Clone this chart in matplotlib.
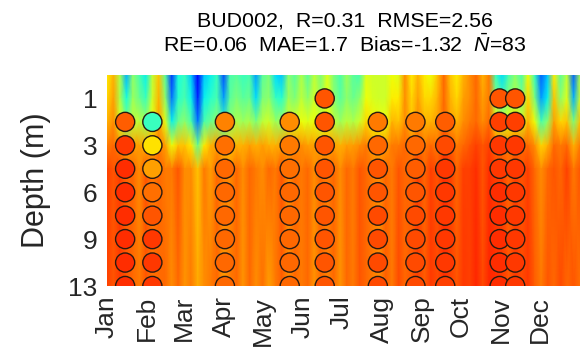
import numpy as np
import matplotlib
matplotlib.use('Agg')
import matplotlib.pyplot as plt

plt.rcParams['font.family'] = ['Liberation Sans', 'DejaVu Sans']
plt.rcParams['mathtext.fontset'] = 'custom'
plt.rcParams['mathtext.it'] = 'Liberation Sans:italic'
plt.rcParams['mathtext.rm'] = 'Liberation Sans'

# day of year for the model columns
days = list(range(1, 371, 5))
# depth levels as row index on the axis (-1 = surface)
levels = [-1, 0, 1, 2, 3, 8]

# model field, jet scale 0-1
row_top = [.66,.72,.56,.30,.52,.44,.36,.58,.70,.46,.18,.38,.42,.32,.12,.32,.36,.42,.20,.44,
           .46,.42,.44,.28,.46,.50,.34,.32,.52,.46,.56,.46,.58,.50,.62,.50,.44,.54,.46,.44,
           .62,.60,.60,.60,.64,.62,.76,.66,.72,.66,.64,.70,.80,.70,.66,.72,.76,.80,.72,.78,
           .42,.34,.44,.52,.44,.64,.42,.22,.32,.66,.46,.58,.22,.56]
row_1m = [.68,.74,.56,.38,.54,.48,.42,.60,.72,.52,.24,.40,.44,.36,.16,.36,.40,.44,.28,.46,
          .50,.46,.48,.34,.50,.52,.42,.40,.54,.50,.58,.52,.60,.54,.62,.52,.46,.52,.48,.52,
          .64,.61,.60,.60,.66,.66,.76,.68,.74,.68,.68,.72,.80,.72,.68,.74,.76,.80,.74,.78,
          .52,.44,.52,.56,.50,.68,.50,.28,.36,.70,.52,.62,.30,.60]
row_2m = [.72,.76,.62,.50,.58,.58,.54,.64,.74,.62,.36,.48,.52,.44,.24,.44,.48,.52,.42,.52,
          .56,.54,.56,.50,.58,.60,.54,.54,.60,.62,.64,.62,.64,.60,.64,.58,.54,.58,.56,.60,
          .68,.65,.64,.64,.72,.70,.76,.70,.76,.72,.72,.74,.80,.74,.72,.76,.78,.80,.76,.80,
          .66,.60,.64,.66,.62,.72,.64,.44,.52,.74,.68,.70,.50,.70]
row_3m = [.78,.80,.76,.73,.74,.74,.72,.74,.78,.74,.64,.70,.70,.66,.48,.66,.72,.74,.70,.70,
          .72,.72,.74,.72,.74,.72,.72,.74,.76,.76,.76,.74,.74,.72,.74,.74,.72,.74,.74,.76,
          .78,.74,.74,.74,.78,.78,.80,.78,.80,.78,.80,.78,.84,.82,.78,.80,.82,.84,.82,.84,
          .80,.78,.78,.80,.80,.80,.76,.68,.72,.80,.78,.80,.72,.78]
row_4m = [.84,.82,.84,.80,.80,.76,.82,.78,.80,.78,.78,.82,.76,.76,.70,.78,.74,.80,.78,.76,
          .80,.76,.80,.78,.76,.80,.78,.82,.76,.80,.78,.80,.76,.80,.78,.80,.76,.80,.78,.82,
          .80,.78,.76,.80,.78,.82,.80,.80,.84,.80,.84,.82,.86,.84,.80,.84,.84,.86,.82,.86,
          .84,.84,.80,.84,.82,.84,.80,.76,.80,.82,.80,.84,.78,.82]
row_deep = [.84,.82,.85,.82,.80,.78,.82,.79,.80,.80,.76,.80,.75,.78,.73,.76,.78,.80,.74,.78,
            .80,.75,.80,.76,.79,.74,.78,.81,.76,.80,.78,.80,.75,.80,.77,.80,.75,.80,.78,.82,
            .80,.78,.76,.81,.78,.83,.80,.82,.84,.81,.85,.83,.86,.84,.82,.85,.84,.87,.83,.87,
            .86,.85,.82,.85,.83,.85,.81,.78,.82,.80,.83,.80,.82,.79]

# observations: sampling day and value per level (nan = no sample)
obs_days = [15, 36, 92, 142, 169, 210, 239, 262, 304, 316]
obs_levels = [0, 1, 2, 3, 4, 5, 6, 7, 8]
obs_jan = [np.nan, .81, .85, .86, .86, .86, .86, .86, .86]
obs_feb = [np.nan, .42, .67, .74, .79, .82, .85, .85, .85]
obs_apr = [np.nan, .77, .79, .80, .80, .80, .80, .80, .80]
obs_may = [np.nan, .76, .78, .79, .80, .80, .80, .80, .80]
obs_jun = [.82, .82, .82, .82, .82, .82, .82, .82, .82]
obs_jul = [np.nan, .78, .80, .82, .82, .83, .83, .83, .83]
obs_aug = [np.nan, .78, .80, .81, .82, .83, .83, .83, .83]
obs_sep = [np.nan, .81, .83, .85, .85, .85, .85, .85, .84]
obs_oct = [.82, .84, .85, .85, .86, .86, .86, .86, .86]
obs_nov = [.82, .84, .85, .85, .85, .85, .85, .85, .85]
obs_all = [obs_jan, obs_feb, obs_apr, obs_may, obs_jun, obs_jul, obs_aug, obs_sep, obs_oct, obs_nov]

month_days = [1, 32, 60, 91, 121, 152, 182, 213, 244, 274, 305, 335]
month_names = ['Jan', 'Feb', 'Mar', 'Apr', 'May', 'Jun', 'Jul', 'Aug', 'Sep', 'Oct', 'Nov', 'Dec']
depth_ticks = [0, 2, 4, 6, 8]
depth_names = ['1', '3', '6', '9', '13']

fig = plt.figure(figsize=(5.8, 3.64), dpi=100)
ax = fig.add_axes([107 / 580, 1 - 286 / 364, 473 / 580, 211 / 364])

field = np.array([row_top, row_1m, row_2m, row_3m, row_4m, row_deep])
ax.pcolormesh(days, levels, field, cmap='jet', vmin=0, vmax=1, shading='gouraud')

for d, vals in zip(obs_days, obs_all):
    ax.scatter([d] * len(obs_levels), obs_levels, c=vals, s=190, cmap='jet', vmin=0, vmax=1,
               edgecolors='#2a1a10', linewidths=1.0, zorder=3)

ax.set_xlim(1, 366)
ax.set_ylim(8, -1)
ax.set_xticks(month_days)
ax.set_xticklabels(month_names, rotation=90, fontsize=19, color='#262626')
ax.set_yticks(depth_ticks)
ax.set_yticklabels(depth_names, fontsize=19, color='#262626')
ax.tick_params(length=0, pad=7)
ax.set_ylabel('Depth (m)', fontsize=22, color='#262626', labelpad=12)
for s in ax.spines.values():
    s.set_visible(False)

fig.text(345 / 580, 1 - 21 / 364, 'BUD002,  R=0.31  RMSE=2.56', ha='center', va='center', fontsize=15.4)
fig.text(345 / 580, 1 - 45 / 364, r'RE=0.06  MAE=1.7  Bias=-1.32  $\bar{N}$=83', ha='center', va='center', fontsize=15.4)

plt.savefig('out.png', dpi=100)
